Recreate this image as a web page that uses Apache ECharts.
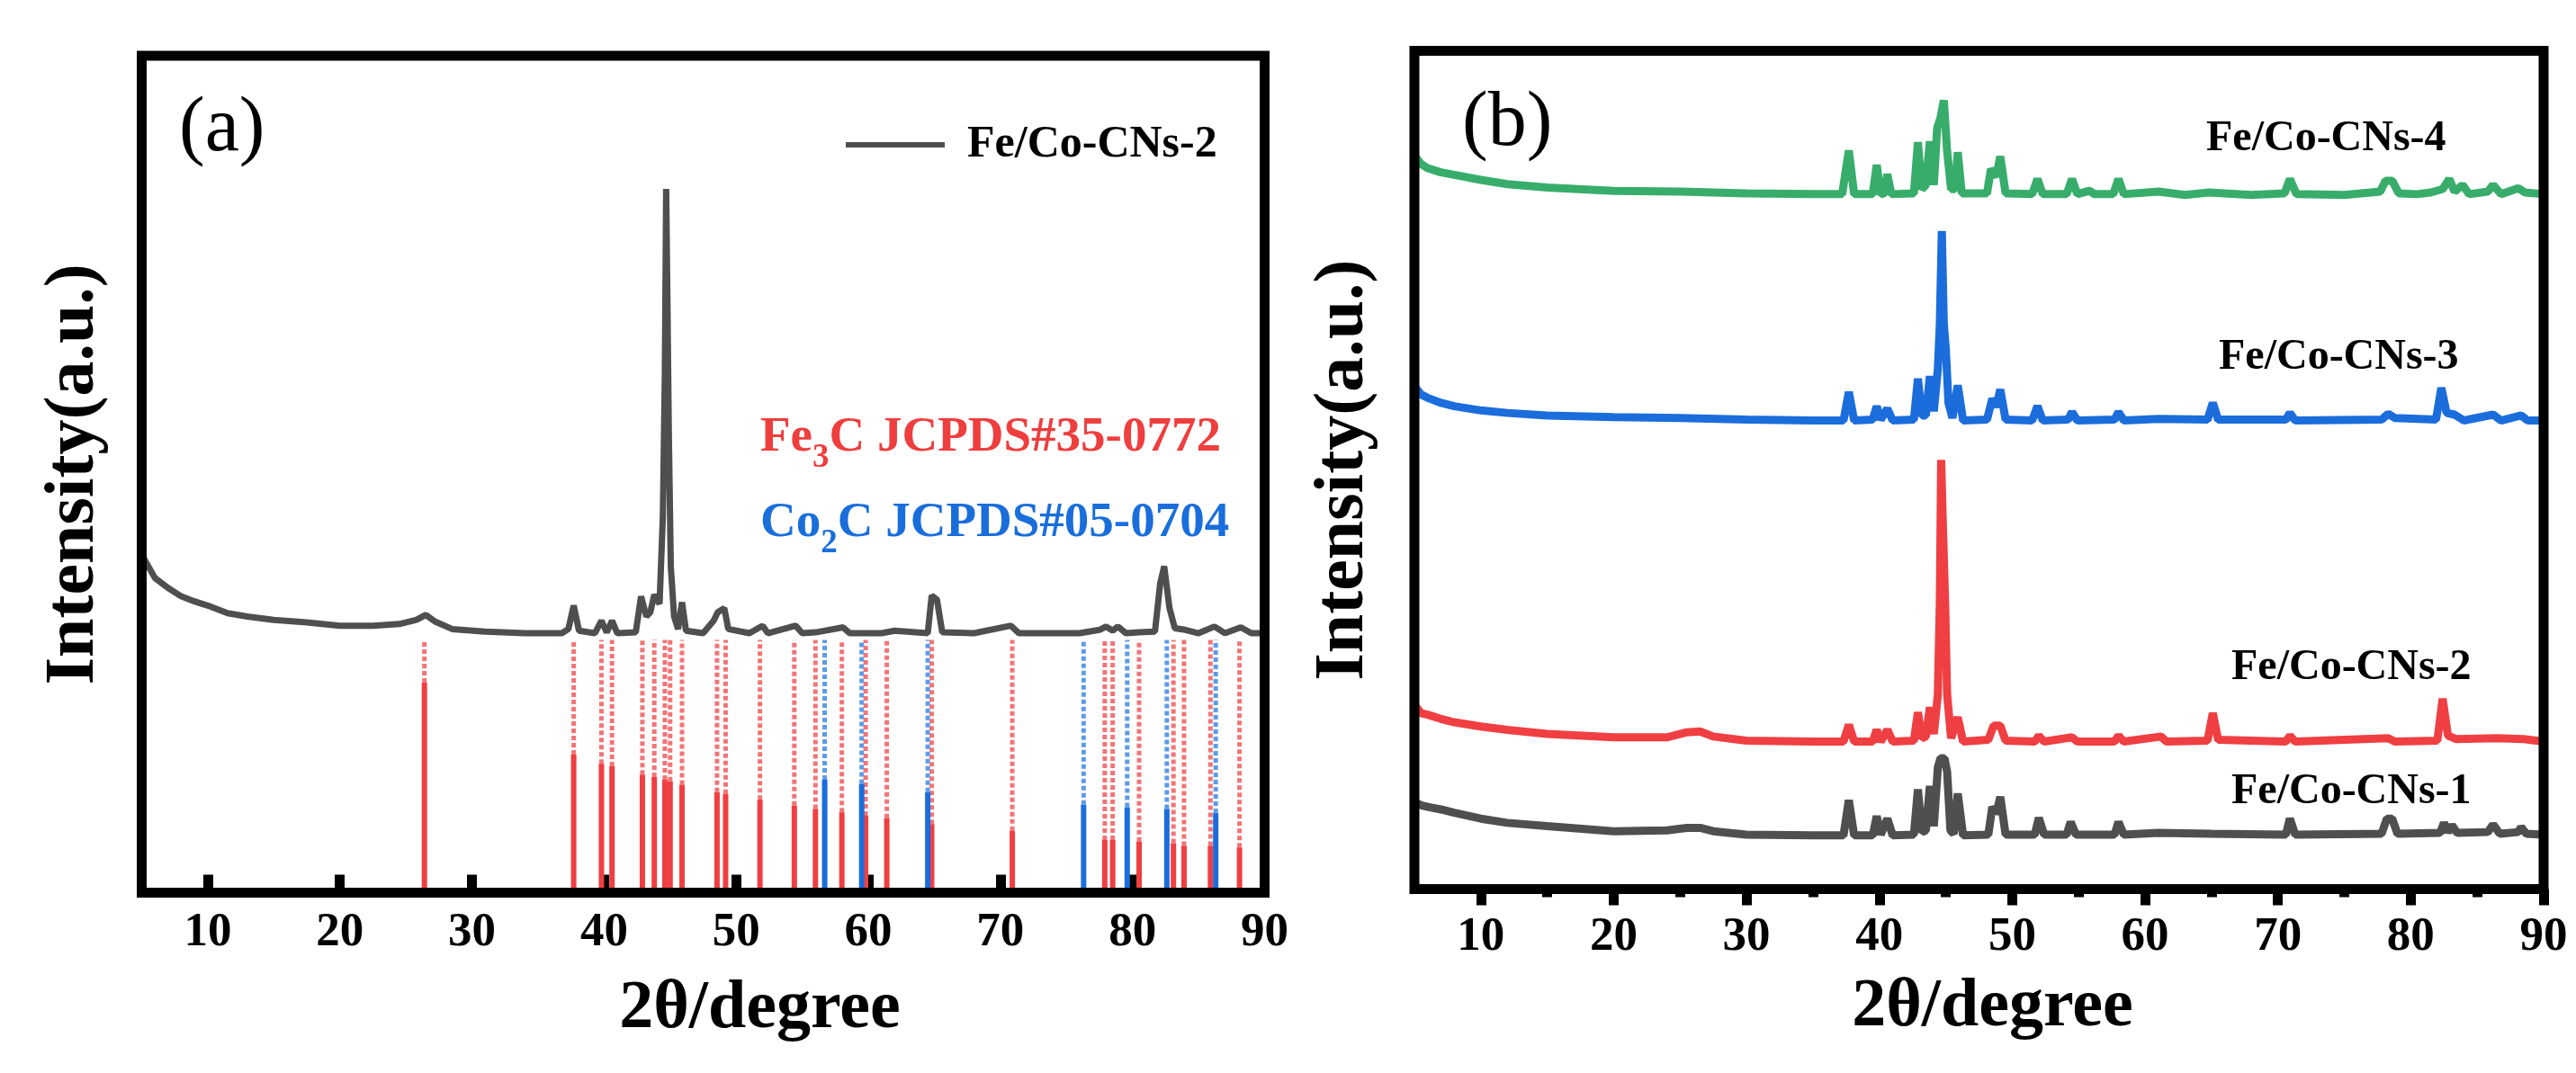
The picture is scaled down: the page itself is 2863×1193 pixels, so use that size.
<!DOCTYPE html>
<html>
<head>
<meta charset="utf-8">
<title>XRD Fe/Co-CNs</title>
<script src="https://cdn.jsdelivr.net/npm/echarts@6/dist/echarts.min.js"></script>
<style>
html,body{margin:0;padding:0;background:#fff;}
#chart{width:2863px;height:1193px;}
</style>
</head>
<body>
<div id="chart"></div>
<script>
var FONT = '"Liberation Serif","Times New Roman",serif';

// ---- panel (a): Fe/Co-CNs-2 pattern + reference cards ----
var curveA = [[5,40.4],[5.5,39],[6,37.6],[7,36.4],[8,35.4],[9,34.8],[10,34.3],[11.5,33.4],[13,33],[15,32.6],[17.5,32.3],[20,31.9],[22.5,31.9],[24.5,32.1],[25.8,32.6],[26.5,33.2],[27.2,32.4],[28.5,31.5],[31,31.2],[34,31.0],[36.8,31.0],[37.3,31.5],[37.7,34.3],[38.1,31.3],[39.3,31.0],[39.8,32.5],[40.2,31.1],[40.6,32.5],[41.0,31.0],[42.4,31.1],[42.8,35.4],[43.2,33],[43.5,33.5],[43.8,35.6],[44.2,34.5],[44.45,45],[44.6,62],[44.7,84.1],[44.8,70],[44.9,55],[45.05,39],[45.3,33],[45.6,31.5],[45.9,34.7],[46.2,31.3],[47.5,31],[48.3,32.5],[48.6,33.5],[49.1,34.0],[49.4,31.5],[51,31],[52,31.9],[52.4,31],[54.5,31.9],[55,31],[56,31.1],[58.1,31.7],[58.6,31],[61,31],[62,31.3],[64.5,31],[64.8,35.5],[65.2,35],[65.6,31.1],[68,31],[70.8,31.9],[71.4,31],[76,31],[77.5,31.4],[78.0,31.8],[78.5,31.3],[78.9,31.8],[79.5,31],[80.5,31.1],[81.7,31.2],[82.1,37],[82.4,39.0],[82.8,34],[83.2,31.6],[84,31.4],[85,31],[86.2,31.8],[87,31],[88.2,31.7],[89,31],[90,31]];

var fe3cPos = [26.4,37.7,39.8,40.6,42.9,43.8,44.6,45.0,45.9,48.55,49.2,51.8,54.4,56.0,58.0,59.8,61.4,64.8,70.9,77.9,78.5,80.5,83.1,83.9,85.9,88.1];
var fe3cInt = [25.1,16.5,15.4,15.1,14.1,13.8,13.5,13.3,12.9,12.0,11.8,11.1,10.4,10.0,9.6,9.2,8.9,8.2,7.4,6.3,6.3,6.1,5.9,5.6,5.6,5.4];
var co2cPos = [56.7,59.5,64.5,76.3,79.6,82.6,86.3];
var co2cInt = [13.5,13.0,12.0,10.5,10.2,10.0,9.5];
var refTop = 30.2; // dotted guide ends just under the pattern

// ---- panel (b): four samples, offset ----
var cns4 = [[5,87.5],[5.5,86.5],[6,86],[7,85.5],[8,85.2],[10,84.6],[12,84.1],[15,83.7],[20,83.3],[25,83.2],[30,83.0],[35,82.9],[37.2,82.9],[37.7,88.1],[38.1,82.9],[39.5,82.9],[39.8,86.4],[40.1,82.9],[40.4,83],[40.6,85.3],[40.9,82.9],[42.6,83],[42.9,89.1],[43.2,83.5],[43.5,84],[43.8,89.2],[44.1,84],[44.35,90.8],[44.6,92],[44.85,94.1],[45.1,88],[45.4,83.5],[45.7,83.5],[45.9,87.9],[46.2,83],[48.1,83],[48.4,85.9],[48.8,85],[49.1,87.4],[49.5,83],[51.5,82.9],[51.9,84.7],[52.3,82.9],[54.1,82.9],[54.5,84.7],[54.9,82.9],[55.8,83.3],[56.2,82.9],[57.6,82.9],[58,84.7],[58.4,82.9],[61,83.2],[63,82.8],[64.8,83.1],[68,82.8],[70.5,83],[70.9,84.7],[71.4,82.9],[75,82.8],[77.7,83.2],[78.1,84.5],[78.6,84.5],[79.1,83],[80.5,82.9],[81.5,83.1],[82.4,83.5],[82.9,84.7],[83.3,83.2],[83.9,84.0],[84.4,82.9],[85.8,83.2],[86.2,84],[86.8,82.9],[88.1,83.6],[88.6,83.1],[90,82.9]];
var cns3 = [[5,60.0],[5.5,59],[6,58.6],[7,58.0],[8,57.6],[10,57.1],[12,56.8],[15,56.5],[20,56.3],[25,56.2],[30,56],[35,55.9],[37.3,55.9],[37.7,59.3],[38.1,55.9],[39.5,56],[39.8,57.6],[40.1,56],[40.6,57.3],[41,55.9],[42.6,56],[42.9,60.9],[43.2,56.5],[43.5,56.5],[43.8,61.2],[44.1,57],[44.4,62],[44.55,67.4],[44.7,78.5],[44.85,67.4],[45.0,64.5],[45.2,58],[45.5,56.2],[45.9,60.1],[46.3,55.9],[48.1,56],[48.5,58.5],[48.8,57.5],[49.1,59.6],[49.5,56],[51.5,55.9],[51.9,57.6],[52.3,55.9],[54.2,56],[54.5,56.9],[54.9,55.9],[57.7,56],[58.0,56.9],[58.4,55.9],[61,56.1],[64.7,56],[65.1,58.0],[65.5,56],[70.6,56],[70.9,56.8],[71.3,55.9],[77.8,56],[78.3,56.7],[78.8,56.2],[81.9,56],[82.3,59.8],[82.7,56.8],[83.3,56.6],[84,55.9],[86.2,56.6],[86.8,55.9],[88.3,56.5],[88.8,55.9],[90,55.9]];
var cns2 = [[5,22.0],[5.5,21],[6,20.8],[7,20.3],[8,19.9],[10,19.4],[12,19],[15,18.5],[20,18.1],[24,18.1],[25.5,18.7],[26.5,18.8],[27.5,18.2],[30,17.7],[35,17.6],[37.3,17.6],[37.7,19.6],[38.1,17.6],[39.5,17.6],[39.8,19.0],[40.1,17.6],[40.6,19.0],[41,17.6],[42.6,17.7],[42.9,21.1],[43.2,18],[43.5,18.2],[43.8,21.7],[44.1,18.5],[44.4,23.2],[44.55,34.1],[44.65,51.2],[44.8,42.4],[44.95,34.1],[45.1,23.2],[45.4,18],[45.9,20.5],[46.3,17.6],[48.2,17.8],[48.6,19.5],[49.1,19.5],[49.5,17.7],[51.7,17.6],[52.0,18.3],[52.4,17.6],[54.5,18.1],[54.9,17.6],[57.7,17.6],[58.0,18.3],[58.4,17.6],[61.2,18.2],[61.6,17.6],[64.7,17.7],[65.1,21.0],[65.5,17.8],[70.6,17.6],[70.9,18.3],[71.3,17.6],[78.3,18.0],[78.8,17.6],[82.0,17.7],[82.4,22.7],[82.8,18.3],[83.4,17.9],[86.5,18],[88.5,17.9],[90,17.6]];
var cns1 = [[5,10.4],[5.5,10],[6,9.8],[7,9.5],[8,9.1],[10,8.4],[12,7.9],[15,7.5],[20,6.9],[24,7.0],[25.5,7.3],[26.5,7.3],[27.5,6.9],[30,6.5],[35,6.4],[37.3,6.4],[37.7,10.6],[38.1,6.4],[39.5,6.4],[39.8,8.7],[40.1,6.5],[40.6,8.4],[41,6.4],[42.6,6.5],[42.9,11.9],[43.2,6.8],[43.5,7],[43.8,12.3],[44.1,7.5],[44.4,14.5],[44.6,15.6],[44.9,15.6],[45.1,14],[45.35,7],[45.6,6.6],[45.9,11.4],[46.3,6.4],[48.2,6.5],[48.5,9.8],[48.8,9.0],[49.1,11.0],[49.5,6.5],[51.7,6.5],[52.0,8.5],[52.4,6.5],[54.1,6.5],[54.4,8.0],[54.8,6.5],[57.7,6.5],[58.0,8.0],[58.4,6.5],[61,6.7],[65,6.6],[70.6,6.5],[70.9,8.4],[71.3,6.5],[77.8,6.6],[78.2,8.4],[78.6,8.4],[79,6.6],[82.2,6.7],[82.5,7.9],[82.8,6.8],[83.1,7.6],[83.5,6.7],[85.8,6.8],[86.2,7.7],[86.7,6.6],[88.1,6.8],[88.3,7.4],[88.7,6.6],[90,6.5]];

var majorTicks = [10,20,30,40,50,60,70,80,90];
var minorTicks = [15,25,35,45,55,65,75,85];

var GRAY = '#4f4f4f', RED = '#ef3f42', BLUE = '#1b6ddc', GREEN = '#38ad6b';

function zip(xs, ys) { return xs.map(function (x, i) { return [x, ys[i]]; }); }

function stickRenderer(solid, dotted) {
	return function (params, api) {
		var x = api.value(0), h = api.value(1);
		var p0 = api.coord([x, 0]), p1 = api.coord([x, h]), p2 = api.coord([x, refTop]);
		return {
			type: 'group',
			children: [
				{ type: 'line', shape: { x1: p1[0], y1: p1[1], x2: p2[0], y2: p2[1] }, style: { stroke: dotted, lineWidth: 5, lineDash: [5, 3] } },
				{ type: 'line', shape: { x1: p0[0], y1: p0[1], x2: p1[0], y2: p1[1] }, style: { stroke: solid, lineWidth: 6 } }
			]
		};
	};
}

function lineSeries(name, data, color, xi, width) {
	return { name: name, type: 'line', xAxisIndex: xi, yAxisIndex: xi, data: data, showSymbol: false, symbol: 'none',
		lineStyle: { color: color, width: width }, itemStyle: { color: color }, silent: true, z: 3 };
}

function subLabel(main, sub, rest, color) {
	return { x: 845, verticalAlign: 'top', text: '{m|' + main + '}{s|' + sub + '}{m|' + rest + '}', fill: color,
		rich: { m: { fontFamily: FONT, fontSize: 55, fontWeight: 'bold', lineHeight: 55, verticalAlign: 'top', fill: color },
			s: { fontFamily: FONT, fontSize: 37, fontWeight: 'bold', lineHeight: 37, padding: [32, 0, 0, 0], verticalAlign: 'top', fill: color } } };
}

function sampleLabel(text, x, y) {
	return { type: 'text', style: { x: x, y: y, text: text, fontFamily: FONT, fontSize: 48, fontWeight: 'bold', fill: '#000', verticalAlign: 'middle' } };
}

var tickLabel = { fontFamily: FONT, fontSize: 53, fontWeight: 'bold', color: '#000' };
var axisName = { fontFamily: FONT, fontSize: 76, fontWeight: 'bold', color: '#000' };

var chart = echarts.init(document.getElementById('chart'), null, { renderer: 'canvas' });
var option = {
	animation: false,
	backgroundColor: '#fff',
	grid: [
		{ left: 157.5, right: 1457.5, top: 62, bottom: 200.5, show: true, borderColor: '#000', borderWidth: 11, backgroundColor: 'transparent', z: 5 },
		{ left: 1572, right: 36, top: 56.5, bottom: 204.5, show: true, borderColor: '#000', borderWidth: 11, backgroundColor: 'transparent', z: 5 }
	],
	legend: {
		data: [{ name: 'Fe/Co-CNs-2', icon: 'rect' }],
		left: 935, top: 131, itemWidth: 110, itemHeight: 6, selectedMode: false,
		textStyle: { fontFamily: FONT, fontSize: 50, fontWeight: 'bold', color: '#000', padding: [0, 0, 0, 20] }
	},
	xAxis: [
		{ gridIndex: 0, position: 'bottom', type: 'value', min: 5, max: 90, axisLine: { show: false }, splitLine: { show: false },
			axisTick: { customValues: majorTicks, inside: true, length: 20, lineStyle: { color: '#000', width: 11 } },
			axisLabel: Object.assign({ customValues: majorTicks, margin: 18 }, tickLabel),
			name: '2θ/degree', nameLocation: 'middle', nameGap: 92, nameTextStyle: Object.assign({ padding: [0, 0, 0, 126] }, axisName) },
		{ gridIndex: 1, position: 'bottom', type: 'value', min: 5, max: 90, axisLine: { show: false }, splitLine: { show: false },
			axisTick: { customValues: majorTicks, inside: false, length: 18, lineStyle: { color: '#000', width: 11 } },
			axisLabel: Object.assign({ customValues: majorTicks, margin: 27 }, tickLabel),
			name: '2θ/degree', nameLocation: 'middle', nameGap: 94, nameTextStyle: Object.assign({ padding: [0, 0, 0, 30] }, axisName) },
		{ gridIndex: 1, position: 'bottom', type: 'value', min: 5, max: 90, axisLine: { show: false }, splitLine: { show: false },
			axisTick: { customValues: minorTicks, inside: false, length: 9, lineStyle: { color: '#000', width: 11 } },
			axisLabel: { show: false } }
	],
	yAxis: [
		{ gridIndex: 0, type: 'value', min: 0, max: 100, axisLine: { show: false }, axisTick: { show: false }, axisLabel: { show: false }, splitLine: { show: false },
			name: 'Intensity(a.u.)', nameLocation: 'middle', nameGap: 36, nameTextStyle: Object.assign({}, axisName, { fontSize: 78 }) },
		{ gridIndex: 1, type: 'value', min: 0, max: 100, axisLine: { show: false }, axisTick: { show: false }, axisLabel: { show: false }, splitLine: { show: false },
			name: 'Intensity(a.u.)', nameLocation: 'middle', nameGap: 39, nameTextStyle: Object.assign({}, axisName, { fontSize: 78 }) }
	],
	series: [
		{ name: 'Fe3C', type: 'custom', xAxisIndex: 0, yAxisIndex: 0, data: zip(fe3cPos, fe3cInt), renderItem: stickRenderer(RED, '#f27476'), silent: true, z: 2 },
		{ name: 'Co2C', type: 'custom', xAxisIndex: 0, yAxisIndex: 0, data: zip(co2cPos, co2cInt), renderItem: stickRenderer(BLUE, '#5c9be8'), silent: true, z: 2 },
		lineSeries('Fe/Co-CNs-2', curveA, GRAY, 0, 7),
		lineSeries('Fe/Co-CNs-1', cns1, GRAY, 1, 9),
		lineSeries('Fe/Co-CNs-2 ', cns2, RED, 1, 9),
		lineSeries('Fe/Co-CNs-3', cns3, BLUE, 1, 9),
		lineSeries('Fe/Co-CNs-4', cns4, GREEN, 1, 9)
	],
	graphic: [
		{ type: 'text', style: { x: 199, y: 144, text: '(a)', fontFamily: FONT, fontSize: 86, fill: '#000', verticalAlign: 'middle' } },
		{ type: 'text', style: { x: 1625, y: 138, text: '(b)', fontFamily: FONT, fontSize: 86, fill: '#000', verticalAlign: 'middle' } },
		{ type: 'text', style: Object.assign({ y: 459 }, subLabel('Fe', '3', 'C JCPDS#35-0772', '#ee3e3e')) },
		{ type: 'text', style: Object.assign({ y: 554 }, subLabel('Co', '2', 'C JCPDS#05-0704', '#1a6edb')) },
		sampleLabel('Fe/Co-CNs-4', 2452, 155),
		sampleLabel('Fe/Co-CNs-3', 2466, 398),
		sampleLabel('Fe/Co-CNs-2', 2480, 743),
		sampleLabel('Fe/Co-CNs-1', 2480, 881)
	]
};
chart.setOption(option);
</script>
</body>
</html>
